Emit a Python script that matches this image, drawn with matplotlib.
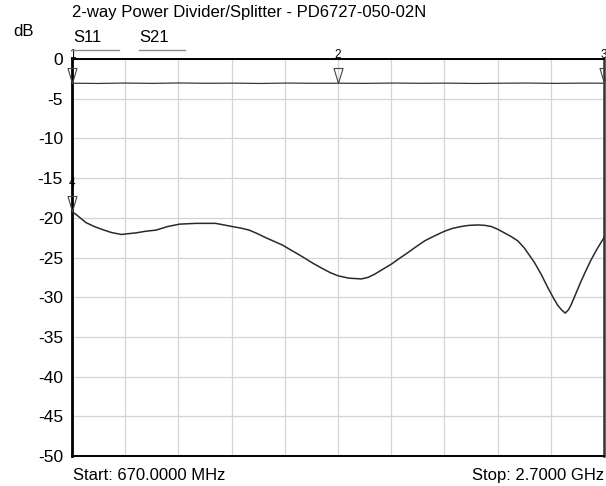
import numpy as np
import matplotlib
matplotlib.use("Agg")
import matplotlib.pyplot as plt
from matplotlib.path import Path

plt.rcParams['font.family'] = ['Liberation Sans', 'DejaVu Sans']

# ---- data (frequency in MHz, level in dB) ----
start_mhz = 670.0
stop_mhz = 2700.0

s11_freq = [670, 690, 723, 755, 788, 820, 859, 885, 914, 950, 991, 1035, 1080,
            1110, 1143, 1180, 1218, 1250, 1281, 1315, 1346, 1378, 1409, 1440,
            1474, 1510, 1549, 1588, 1626, 1655, 1685, 1726, 1774, 1800, 1825,
            1855, 1888, 1920, 1951, 1985, 2016, 2055, 2091, 2120, 2154, 2185,
            2219, 2245, 2270, 2295, 2320, 2345, 2371, 2396, 2434, 2460, 2485,
            2507, 2523, 2538, 2552, 2564, 2574, 2592, 2611, 2629, 2649, 2674,
            2700]
s11_db = [-19.2, -19.7, -20.6, -21.1, -21.5, -21.85, -22.1, -22.0, -21.9, -21.7,
          -21.55, -21.1, -20.8, -20.75, -20.7, -20.7, -20.7, -20.9, -21.1, -21.3,
          -21.55, -22.0, -22.5, -22.95, -23.45, -24.15, -24.9, -25.7, -26.4,
          -26.9, -27.3, -27.6, -27.7, -27.5, -27.1, -26.5, -25.85, -25.1, -24.4,
          -23.6, -22.9, -22.25, -21.7, -21.35, -21.1, -20.95, -20.9, -20.95,
          -21.1, -21.45, -21.9, -22.35, -22.9, -23.8, -25.6, -27.1, -28.75,
          -30.1, -31.0, -31.6, -32.0, -31.6, -31.0, -29.6, -28.1, -26.8, -25.4,
          -23.9, -22.5]

s21_freq = [670, 770, 873, 976, 1079, 1182, 1285, 1388, 1491, 1594, 1685,
            1790, 1893, 1996, 2099, 2202, 2305, 2408, 2511, 2614, 2700]
s21_db = [-3.05, -3.08, -3.03, -3.07, -3.02, -3.06, -3.04, -3.08, -3.03, -3.06,
          -3.05, -3.07, -3.03, -3.06, -3.04, -3.08, -3.05, -3.03, -3.07, -3.04,
          -3.05]

y_ticks = [0, -5, -10, -15, -20, -25, -30, -35, -40, -45, -50]
y_tick_labels = ["0", "-5", "-10", "-15", "-20", "-25", "-30", "-35", "-40", "-45", "-50"]

marker_ids = ["1", "2", "3", "4"]
marker_freq = [670, 1685, 2700, 670]
marker_trace = ["S21", "S21", "S21", "S11"]

title = "2-way Power Divider/Splitter - PD6727-050-02N"
start_label = "Start: 670.0000 MHz"
stop_label = "Stop: 2.7000 GHz"

# ---- figure ----
W, H = 606, 486
fig = plt.figure(figsize=(W / 100, H / 100), dpi=100)
ax = fig.add_axes([72 / W, (H - 456) / H, 532 / W, 397 / H])

ax.set_xlim(start_mhz, stop_mhz)
ax.set_ylim(-50, 0)
ax.set_xticks(np.linspace(start_mhz, stop_mhz, 11))
ax.set_xticklabels([])
ax.set_yticks(y_ticks)
ax.set_yticklabels(y_tick_labels, fontsize=12.5)
ax.tick_params(length=0, pad=6.5)
ax.grid(True, color='#d4d4d4', linewidth=0.9)
ax.set_axisbelow(True)
for side, sp in ax.spines.items():
    sp.set_color('black')
    sp.set_linewidth(1.4)
ax.spines['left'].set_linewidth(2.0)
ax.spines['right'].set_color('#333333')
ax.spines['right'].set_linewidth(1.8)

ax.plot(s21_freq, s21_db, color='#3a3a3a', linewidth=0.9, zorder=3)
ax.plot(s11_freq, s11_db, color='#2a2a2a', linewidth=1.1, zorder=3)

# markers: open triangles whose tip sits on the trace
tri = Path([(-0.3, 1.0), (0.3, 1.0), (0.0, 0.0), (-0.3, 1.0)],
           [Path.MOVETO, Path.LINETO, Path.LINETO, Path.CLOSEPOLY])
traces = {"S11": (s11_freq, s11_db), "S21": (s21_freq, s21_db)}
for mid, mf, mt in zip(marker_ids, marker_freq, marker_trace):
    fx, fy = traces[mt]
    my = float(np.interp(mf, fx, fy))
    ax.plot([mf], [my], marker=tri, markersize=21.6, markerfacecolor='none',
            markeredgecolor='#444444', markeredgewidth=0.8, linestyle='none',
            clip_on=False, zorder=4)
    ax.annotate(mid, (mf, my), xytext=(0, 20.5), textcoords='offset points',
                ha='center', va='center', fontsize=8.5, annotation_clip=False,
                zorder=5)

# texts
fig.text(72 / W, 1 - 13 / H, title, fontsize=12, ha='left', va='center')
fig.text(13 / W, 1 - 32 / H, "dB", fontsize=12, ha='left', va='center')
fig.text(73 / W, 1 - 38 / H, "S11", fontsize=12, ha='left', va='center')
fig.text(139 / W, 1 - 38 / H, "S21", fontsize=12, ha='left', va='center')
fig.add_artist(plt.Line2D([72 / W, 119 / W], [1 - 50.5 / H, 1 - 50.5 / H],
                          color='#8a8a8a', linewidth=1.0))
fig.add_artist(plt.Line2D([139 / W, 185 / W], [1 - 50.5 / H, 1 - 50.5 / H],
                          color='#8a8a8a', linewidth=1.0))
fig.text(73 / W, 1 - 475.5 / H, start_label, fontsize=12, ha='left', va='center')
fig.text(604 / W, 1 - 475.5 / H, stop_label, fontsize=12, ha='right', va='center')

fig.savefig("out.png", dpi=100)
